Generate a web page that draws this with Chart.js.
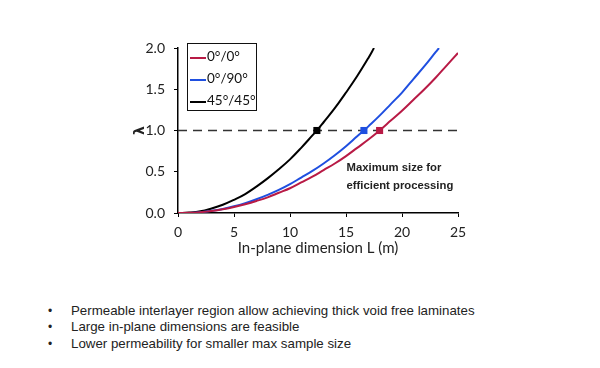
<!DOCTYPE html>
<html><head><meta charset="utf-8">
<script src="https://cdn.jsdelivr.net/npm/chart.js@4.4.1/dist/chart.umd.min.js"></script>
<style>
html,body{margin:0;padding:0;background:#fff;width:600px;height:368px;overflow:hidden;position:relative;}
#wrap{position:absolute;left:0;top:0;width:600px;height:262px;}
#legend{position:absolute;left:187px;top:43px;width:70px;height:68px;border:1.5px solid #111;box-sizing:border-box;font-family:Lato,"Open Sans",sans-serif;font-size:13.5px;color:#111;}
#legend div{position:absolute;left:2px;height:18px;line-height:18px;white-space:nowrap;}
#legend span.l{display:inline-block;width:16px;height:2px;vertical-align:middle;margin-right:1px;}
ul{position:absolute;left:0;top:303px;margin:0;padding:0;list-style:none;font-family:"Liberation Sans",Arial,sans-serif;font-size:13.3px;color:#222;}
li{position:relative;height:16.3px;line-height:16.3px;padding-left:71px;}
li:before{content:"•";position:absolute;left:48px;font-size:12px;}
</style></head>
<body>
<div id="wrap"><canvas id="c" width="600" height="262"></canvas></div>
<div id="legend"></div>
<ul id="bullets"></ul>
<script>
// ---- data ----
const seriesNames = ['0°/0°', '0°/90°', '45°/45°'];
const seriesColors = ['#B81A45', '#1F4FE0', '#000000'];

const redX  = [0,1,2,3,4,5,6,7,8,9,10,11,12,13,14,15,16,17,18,19,20,21,22,23,24,25];
const redY  = [0,0.002,0.01,0.025,0.046,0.073,0.107,0.146,0.19,0.245,0.30,0.37,0.44,0.52,0.60,0.69,0.79,0.89,1.0,1.12,1.24,1.37,1.50,1.64,1.79,1.94];

const blueX = [0,1,2,3,4,5,6,7,8,9,10,11,12,13,14,15,16,16.6,17,18,19,20,21,22,23,23.3];
const blueY = [0,0.001,0.01,0.026,0.049,0.081,0.12,0.166,0.22,0.28,0.35,0.43,0.51,0.60,0.70,0.81,0.93,1.0,1.05,1.18,1.32,1.46,1.62,1.78,1.95,2.0];

const blackX = [0,1,2,3,4,5,6,7,8,9,10,11,12,12.4,13,14,15,16,17,17.5];
const blackY = [0,0.005,0.02,0.055,0.10,0.16,0.23,0.32,0.42,0.53,0.65,0.79,0.94,1.0,1.10,1.27,1.46,1.66,1.88,2.0];

const markerX = [18.0, 16.6, 12.4];
const markerY = [1.0, 1.0, 1.0];

const thresholdX = [0, 25];
const thresholdY = [1.0, 1.0];

const xTicks = [0, 5, 10, 15, 20, 25];
const yTicks = ['0.0', '0.5', '1.0', '1.5', '2.0'];

const xTitle = 'In-plane dimension L (m)';
const yTitle = 'λ';
const noteLines = ['Maximum size for', 'efficient processing'];
const bullets = [
  'Permeable interlayer region allow achieving thick void free laminates',
  'Large in-plane dimensions are feasible',
  'Lower permeability for smaller max sample size'
];

// ---- build ----
const zip = (xs, ys) => xs.map((x, i) => ({x, y: ys[i]}));
const tickFont = {family: 'Lato, "Open Sans", sans-serif', size: 14};

const notePlugin = {
  id: 'note',
  afterDatasetsDraw(chart) {
    const {ctx, scales: {x, y}} = chart;
    ctx.save();
    ctx.font = 'bold 11.3px "Liberation Sans", Arial, sans-serif';
    ctx.fillStyle = '#222';
    ctx.textBaseline = 'middle';
    ctx.fillText(noteLines[0], x.getPixelForValue(15.05), y.getPixelForValue(0.545));
    ctx.fillText(noteLines[1], x.getPixelForValue(15.05), y.getPixelForValue(0.33));
    ctx.restore();
  }
};

new Chart(document.getElementById('c'), {
  type: 'scatter',
  data: {
    datasets: [
      {data: zip(markerX, markerY), showLine: false, pointStyle: 'rect', pointRadius: 5,
       backgroundColor: seriesColors, borderColor: seriesColors, borderWidth: 0, order: 0},
      {data: zip(redX, redY), showLine: true, borderColor: seriesColors[0], borderWidth: 2, pointRadius: 0, tension: 0.4, order: 2},
      {data: zip(blueX, blueY), showLine: true, borderColor: seriesColors[1], borderWidth: 2, pointRadius: 0, tension: 0.4, order: 2},
      {data: zip(blackX, blackY), showLine: true, borderColor: seriesColors[2], borderWidth: 2, pointRadius: 0, tension: 0.4, order: 2},
      {data: zip(thresholdX, thresholdY), showLine: true, borderColor: '#333', borderWidth: 1.6, borderDash: [9, 6], pointRadius: 0, order: 3}
    ]
  },
  options: {
    responsive: false,
    animation: false,
    layout: {padding: {left: 128, top: 48, right: 142, bottom: 0}},
    plugins: {legend: {display: false}, tooltip: {enabled: false}},
    scales: {
      x: {
        type: 'linear', min: 0, max: 25,
        afterBuildTicks: s => { s.ticks = xTicks.map(v => ({value: v})); },
        afterFit: s => { s.height = 49; },
        grid: {display: true, drawOnChartArea: false, drawTicks: true, tickLength: 4, color: '#000', lineWidth: 1},
        border: {display: true, color: '#000', width: 1.5},
        ticks: {font: tickFont, color: '#222', padding: 7, maxRotation: 0},
        title: {display: true, text: xTitle, font: {family: 'Lato, "Open Sans", sans-serif', size: 15}, color: '#222', padding: {top: 0, bottom: 5}}
      },
      y: {
        type: 'linear', min: 0, max: 2,
        afterBuildTicks: s => { s.ticks = yTicks.map(v => ({value: parseFloat(v)})); },
        afterFit: s => { s.width = 50; },
        grid: {display: true, drawOnChartArea: false, drawTicks: true, tickLength: 4, color: '#000', lineWidth: 1},
        border: {display: true, color: '#000', width: 1.5},
        ticks: {font: tickFont, color: '#222', padding: 9, callback: (v, i) => yTicks[i]},
        title: {display: true, text: yTitle, font: {family: '"DejaVu Sans", sans-serif', size: 14, weight: 'bold'}, color: '#222', padding: {top: 4, bottom: 0}}
      }
    }
  },
  plugins: [notePlugin]
});

// legend
const leg = document.getElementById('legend');
seriesNames.forEach((n, i) => {
  const d = document.createElement('div');
  d.style.top = [3, 25, 47][i] + 'px';
  d.innerHTML = '<span class="l" style="background:' + seriesColors[i] + '"></span>' + n;
  leg.appendChild(d);
});
// bullets
const ul = document.getElementById('bullets');
bullets.forEach(t => { const li = document.createElement('li'); li.textContent = t; ul.appendChild(li); });
</script>
</body></html>
